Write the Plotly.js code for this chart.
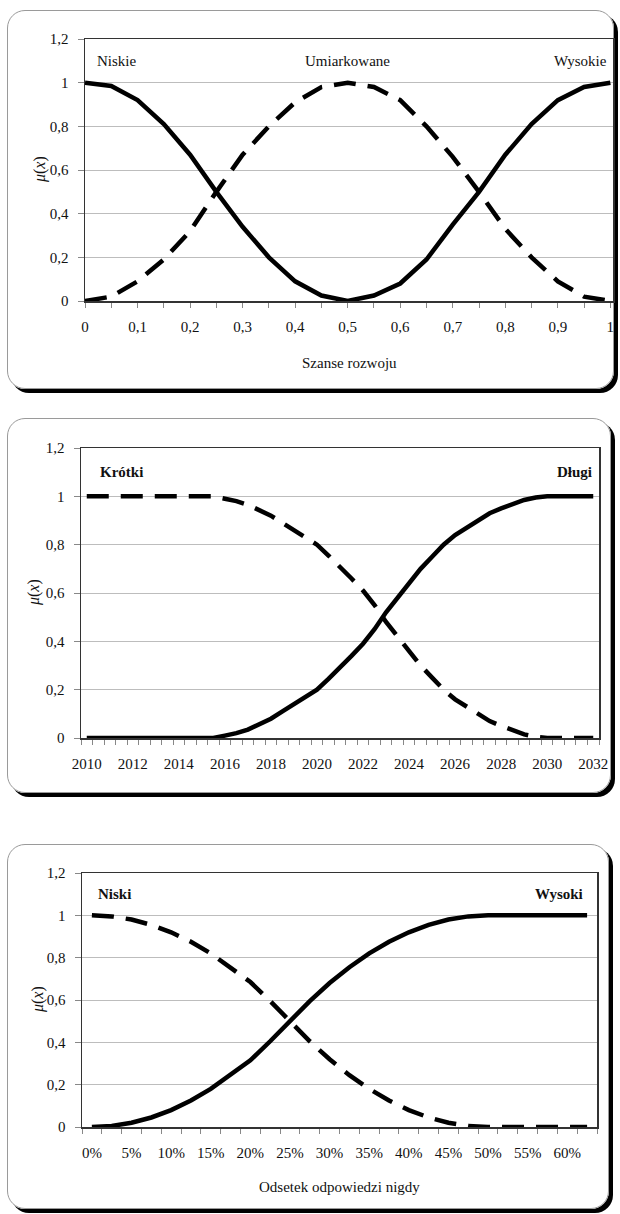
<!DOCTYPE html>
<html><head><meta charset="utf-8">
<script src="https://cdn.plot.ly/plotly-3.0.1.min.js"></script>
<style>
html,body{margin:0;padding:0;background:#fff;width:620px;height:1214px;overflow:hidden;position:relative}
.plot{position:absolute;left:0;width:620px;z-index:2}
.box{position:absolute;box-sizing:border-box;border:1px solid #9a9a9a;border-radius:18px;box-shadow:4px 4px 0 #000;pointer-events:none;z-index:1}
</style></head><body>
<div class="box" style="left:7px;top:10px;width:607px;height:379px"></div>
<div class="box" style="left:7px;top:418px;width:604px;height:375px"></div>
<div class="box" style="left:7px;top:844px;width:602px;height:365px"></div>
<div class="plot" id="p1" style="top:0;height:400px"></div>
<div class="plot" id="p2" style="top:410px;height:400px"></div>
<div class="plot" id="p3" style="top:820px;height:394px"></div>
<script>
// ---------- data ----------
const yTickVals = [0, 0.2, 0.4, 0.6, 0.8, 1, 1.2];
const yTickText = ['0', '0,2', '0,4', '0,6', '0,8', '1', '1,2'];

// Panel 1: Szanse rozwoju
const chanceX = [0,0.05,0.1,0.15,0.2,0.25,0.3,0.35,0.4,0.45,0.5,0.55,0.6,0.65,0.7,0.75,0.8,0.85,0.9,0.95,1];
const chanceLowHigh = [1,0.985,0.92,0.81,0.67,0.5,0.34,0.2,0.09,0.025,0,0.025,0.08,0.19,0.35,0.5,0.67,0.81,0.92,0.98,1];
const chanceModerate = [0,0.02,0.09,0.19,0.32,0.5,0.67,0.8,0.91,0.98,1,0.98,0.92,0.8,0.66,0.5,0.33,0.2,0.09,0.02,0];
const chanceTickVals = [0,0.1,0.2,0.3,0.4,0.5,0.6,0.7,0.8,0.9,1];
const chanceTickText = ['0','0,1','0,2','0,3','0,4','0,5','0,6','0,7','0,8','0,9','1'];
const chanceLabels = ['Niskie', 'Umiarkowane', 'Wysokie'];

// Panel 2: years
const years = [2010,2010.5,2011,2011.5,2012,2012.5,2013,2013.5,2014,2014.5,2015,2015.5,2016,2016.5,2017,2017.5,2018,2018.5,2019,2019.5,2020,2020.5,2021,2021.5,2022,2022.5,2023,2023.5,2024,2024.5,2025,2025.5,2026,2026.5,2027,2027.5,2028,2028.5,2029,2029.5,2030,2030.5,2031,2031.5,2032];
const yearsLong  = [0,0,0,0,0,0,0,0,0,0,0,0,0.01,0.02,0.035,0.055,0.08,0.11,0.14,0.17,0.2,0.245,0.29,0.34,0.39,0.45,0.52,0.58,0.64,0.7,0.75,0.8,0.84,0.87,0.9,0.93,0.95,0.97,0.985,0.995,1,1,1,1,1];
const yearsShort = [1,1,1,1,1,1,1,1,1,1,1,1,0.99,0.98,0.965,0.945,0.92,0.89,0.86,0.83,0.8,0.755,0.71,0.66,0.61,0.55,0.48,0.42,0.36,0.3,0.25,0.2,0.16,0.13,0.1,0.07,0.05,0.03,0.015,0.005,0,0,0,0,0];
const yearTickVals = [2010,2012,2014,2016,2018,2020,2022,2024,2026,2028,2030,2032];
const yearTickText = ['2010','2012','2014','2016','2018','2020','2022','2024','2026','2028','2030','2032'];
const yearLabels = ['Krótki', 'Długi'];

// Panel 3: Odsetek odpowiedzi nigdy (%)
const shareX = [0,2.5,5,7.5,10,12.5,15,17.5,20,22.5,25,27.5,30,32.5,35,37.5,40,42.5,45,47.5,50,52.5,55,57.5,60,62.5];
const shareHigh = [0,0.005,0.02,0.045,0.08,0.125,0.18,0.245,0.315,0.405,0.5,0.595,0.68,0.755,0.82,0.875,0.92,0.955,0.98,0.995,1,1,1,1,1,1];
const shareLow  = [1,0.995,0.98,0.955,0.92,0.875,0.82,0.755,0.685,0.595,0.5,0.405,0.32,0.245,0.18,0.125,0.08,0.045,0.02,0.005,0,0,0,0,0,0];
const shareTickVals = [0,5,10,15,20,25,30,35,40,45,50,55,60];
const shareTickText = ['0%','5%','10%','15%','20%','25%','30%','35%','40%','45%','50%','55%','60%'];
const shareLabels = ['Niski', 'Wysoki'];

// ---------- styling helpers ----------
const FONT = '"Liberation Serif", "Times New Roman", serif';
const LW = 4.5;
const DASH = '22px,12px';

function solid(x, y) { return {x: x, y: y, mode: 'lines', line: {color: '#000', width: LW}, hoverinfo: 'skip'}; }
function dashed(x, y) { return {x: x, y: y, mode: 'lines', line: {color: '#000', width: LW, dash: DASH}, hoverinfo: 'skip'}; }

function yAxis() {
  return {range: [0, 1.2], tickmode: 'array', tickvals: yTickVals, ticktext: yTickText,
    showgrid: true, gridcolor: '#bdbdbd', gridwidth: 1, zeroline: false,
    showline: true, linecolor: '#333', linewidth: 1.5, mirror: true,
    ticks: 'outside', ticklen: 6, tickcolor: '#888', ticklabelstandoff: 6,
    tickfont: {family: FONT, size: 15, color: '#111'}, fixedrange: true};
}
function xAxis(range, tv, tt, minorVals, majorTicks) {
  return {range: range, tickmode: 'array', tickvals: tv, ticktext: tt,
    showgrid: false, zeroline: false, showline: true, linecolor: '#333', linewidth: 1.5, mirror: true,
    ticks: 'outside', ticklen: 5, tickcolor: majorTicks ? '#888' : 'rgba(0,0,0,0)', ticklabelstandoff: 6,
    tickfont: {family: FONT, size: 15, color: '#111'}, fixedrange: true,
    minor: {tickmode: 'array', tickvals: minorVals, ticks: 'outside', ticklen: 5, tickcolor: '#888', showgrid: false}};
}
function muTitle(shift) {
  return {xref: 'paper', yref: 'paper', x: 0, y: 0.5, xanchor: 'center', yanchor: 'middle', xshift: shift,
    showarrow: false, textangle: -90,
    text: '<i>μ</i>(<i>x</i>)', font: {family: FONT, size: 16, color: '#111'}};
}
function label(text, xr, x, anchor, shift, bold) {
  return {xref: xr, yref: 'y', x: x, y: 1.1, xanchor: anchor, yanchor: 'middle', xshift: shift, showarrow: false,
    text: bold ? '<b>' + text + '</b>' : text, font: {family: FONT, size: 15, color: '#111'}};
}
function xTitle(text, shift) {
  return {xref: 'paper', yref: 'paper', x: 0.5, y: 0, xanchor: 'center', yanchor: 'middle', yshift: shift,
    showarrow: false, text: text, font: {family: FONT, size: 15, color: '#111'}};
}
function boundaries(vals) {
  const step = vals[1] - vals[0];
  const out = [];
  for (let i = 0; i <= vals.length; i++) out.push(vals[0] - step / 2 + i * step);
  return out;
}
const cfg = {staticPlot: true, displayModeBar: false};
const baseFont = {family: FONT, size: 15, color: '#111'};

// ---------- panel 1 ----------
const minor1 = chanceX.filter((v, i) => i % 2 === 1);
Plotly.newPlot('p1', [solid(chanceX, chanceLowHigh), dashed(chanceX, chanceModerate)], {
  width: 620, height: 400, margin: {l: 85, r: 7, t: 39, b: 99}, font: baseFont,
  paper_bgcolor: 'rgba(0,0,0,0)', plot_bgcolor: '#fff', showlegend: false,
  xaxis: xAxis([0, 1.005], chanceTickVals, chanceTickText, minor1, true),
  yaxis: yAxis(),
  annotations: [
    muTitle(-45),
    label(chanceLabels[0], 'paper', 0, 'left', 10, false),
    label(chanceLabels[1], 'x', 0.5, 'center', 0, false),
    label(chanceLabels[2], 'paper', 1, 'right', -4, false),
    xTitle('Szanse rozwoju', -62)
  ]
}, cfg);

// ---------- panel 2 ----------
const b2 = boundaries(years);
Plotly.newPlot('p2', [dashed(years, yearsShort), solid(years, yearsLong)], {
  width: 620, height: 400, margin: {l: 81, r: 21, t: 38, b: 72}, font: baseFont,
  paper_bgcolor: 'rgba(0,0,0,0)', plot_bgcolor: '#fff', showlegend: false,
  xaxis: xAxis([b2[0], b2[b2.length - 1]], yearTickVals, yearTickText, b2, false),
  yaxis: yAxis(),
  annotations: [
    muTitle(-47),
    label(yearLabels[0], 'paper', 0, 'left', 17, true),
    label(yearLabels[1], 'paper', 1, 'right', -5, true)
  ]
}, cfg);

// ---------- panel 3 ----------
const b3 = boundaries(shareX);
Plotly.newPlot('p3', [dashed(shareX, shareLow), solid(shareX, shareHigh)], {
  width: 620, height: 394, margin: {l: 82, r: 23, t: 53, b: 87}, font: baseFont,
  paper_bgcolor: 'rgba(0,0,0,0)', plot_bgcolor: '#fff', showlegend: false,
  xaxis: xAxis([b3[0], b3[b3.length - 1]], shareTickVals, shareTickText, b3, false),
  yaxis: yAxis(),
  annotations: [
    muTitle(-44),
    label(shareLabels[0], 'paper', 0, 'left', 14, true),
    label(shareLabels[1], 'paper', 1, 'right', -12, true),
    xTitle('Odsetek odpowiedzi nigdy', -60)
  ]
}, cfg);
</script>
</body></html>
